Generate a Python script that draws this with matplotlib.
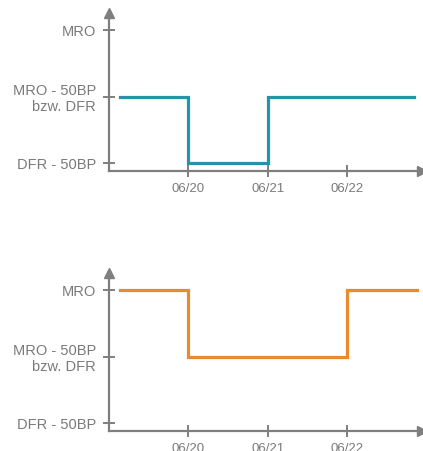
import matplotlib
matplotlib.use("Agg")
import matplotlib.pyplot as plt

plt.rcParams['font.family'] = ['Liberation Sans', 'DejaVu Sans']

x_ticklabels = ["06/20", "06/21", "06/22"]
x_tickpos = [1, 2, 3]
y_ticklabels = ["DFR - 50BP", "MRO - 50BP\nbzw. DFR", "MRO"]
y_tickpos = [0, 1, 2]

top_x = [0.14, 1, 2, 3.84]
top_y = [1, 0, 1, 1]
bot_x = [0.14, 1, 3, 3.88]
bot_y = [2, 1, 2, 2]

GRAY = "#7f7f7f"
TEXT = "#7a7a7a"
W, H = 423, 451
fig = plt.figure(figsize=(W / 100, H / 100), dpi=100)

def make_ax(left, right, top, bottom):
    return fig.add_axes([left / W, 1 - bottom / H, (right - left) / W, (bottom - top) / H])

ax1 = make_ax(109, 422, 13, 171)
ax2 = make_ax(109, 422, 273, 431)

for ax, xs, ys, col in [(ax1, top_x, top_y, "#2594a6"), (ax2, bot_x, bot_y, "#ea8a30")]:
    ax.step(xs, ys, where="post", color=col, lw=2.3, solid_joinstyle="miter")
    ax.set_xlim(0, 3.94)
    ax.set_ylim(-0.12, 2.26)
    for s in ["top", "right"]:
        ax.spines[s].set_visible(False)
    for s in ["left", "bottom"]:
        ax.spines[s].set_color(GRAY)
        ax.spines[s].set_linewidth(1.6)
    ax.set_xticks(x_tickpos)
    ax.set_xticklabels(x_ticklabels)
    ax.set_yticks(y_tickpos)
    ax.set_yticklabels(y_ticklabels)
    ax.tick_params(direction="inout", length=8, width=1.4, color=GRAY, labelcolor=TEXT)
    ax.tick_params(axis="y", labelsize=10.5, pad=5.5)
    ax.tick_params(axis="x", labelsize=9.5, pad=4.5)
    ax.plot([0], [1], marker="^", color=GRAY, markersize=7, transform=ax.transAxes, clip_on=False)
    ax.plot([1], [0], marker=">", color=GRAY, markersize=7, transform=ax.transAxes, clip_on=False)

fig.savefig("out.png", dpi=100)
